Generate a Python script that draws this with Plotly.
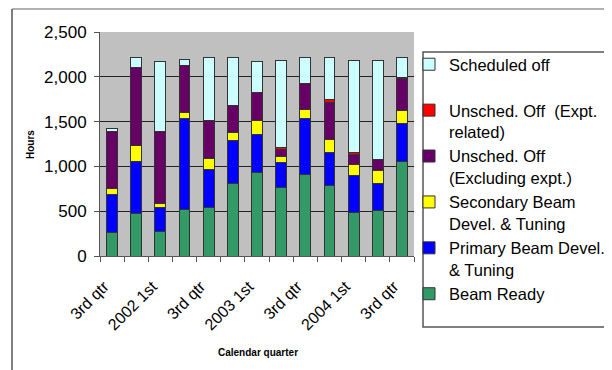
import plotly.graph_objects as go

quarters = ["2001 Q3", "2001 Q4", "2002 Q1", "2002 Q2", "2002 Q3", "2002 Q4",
            "2003 Q1", "2003 Q2", "2003 Q3", "2003 Q4", "2004 Q1", "2004 Q2", "2004 Q3"]
tick_labels = ["3rd qtr", "", "2002 1st", "", "3rd qtr", "", "2003 1st", "",
               "3rd qtr", "", "2004 1st", "", "3rd qtr"]

beam_ready = [262, 476, 277, 521, 536, 814, 934, 765, 911, 784, 487, 506, 1050]
primary = [424, 581, 263, 1009, 428, 476, 427, 277, 623, 367, 409, 308, 431]
secondary = [64, 177, 49, 71, 120, 86, 154, 72, 97, 150, 128, 138, 139]
unsched_excl = [637, 873, 806, 529, 423, 308, 315, 75, 296, 409, 108, 124, 360]
unsched_expt = [0, 0, 0, 0, 0, 0, 0, 18, 0, 34, 19, 0, 11]
scheduled = [34, 113, 772, 60, 705, 528, 337, 979, 285, 468, 1035, 1110, 221]

series = [
    ("Beam Ready", beam_ready, "#339966"),
    ("Primary Beam Devel.<br>& Tuning", primary, "#0000ff"),
    ("Secondary Beam<br>Devel. & Tuning", secondary, "#ffff00"),
    ("Unsched. Off<br>(Excluding expt.)", unsched_excl, "#660066"),
    ("Unsched. Off  (Expt.<br>related)", unsched_expt, "#ff0000"),
    ("Scheduled off<br> ", scheduled, "#ccffff"),
]

fig = go.Figure()
for name, vals, col in series:
    fig.add_trace(go.Bar(x=quarters, y=vals, name=name,
                         marker=dict(color=col, line=dict(color="#333333", width=1))))

# the page body has an 8px margin, so the figure is laid out 8px smaller
OFF = 8
W, H = 612 - OFF, 370 - OFF
L, R, T, B = 92, 198, 24, 114
pw, ph = W - L - R, H - T - B

def px(x):  # screen x -> paper
    return (x - OFF - L) / pw

def py(y):  # screen y -> paper
    return (H - B - (y - OFF)) / ph

font = "Liberation Sans, Arial, sans-serif"
fig.update_layout(
    width=W, height=H,
    barmode="stack", bargap=0.55,
    plot_bgcolor="#c0c0c0", paper_bgcolor="white",
    margin=dict(l=L, r=R, t=T, b=B, autoexpand=False),
    font=dict(family=font, color="black", size=15),
    showlegend=True,
    legend=dict(traceorder="reversed", xref="container", yref="container",
                x=401 / W, y=1 - 39 / H, xanchor="left", yanchor="top",
                bgcolor="rgba(0,0,0,0)", borderwidth=0, font=dict(size=16.5),
                valign="top", tracegroupgap=0, itemwidth=30, maxheight=400),
    xaxis=dict(tickmode="array", tickvals=quarters, ticktext=tick_labels,
               tickangle=-45, tickson="boundaries", ticks="outside", ticklen=5,
               tickcolor="#555555", showline=True, linecolor="#555555",
               tickfont=dict(size=16), showgrid=False, automargin=False,
               ticklabelstandoff=14, ticklabelshift=-8),
    yaxis=dict(range=[0, 2500], dtick=500, tickformat=",", ticks="outside", ticklen=5,
               tickcolor="#555555", showline=True, linecolor="#555555",
               gridcolor="#222222", gridwidth=1, tickfont=dict(size=17), zeroline=False,
               ticklabelstandoff=4, automargin=False),
    annotations=[
        dict(text="<b>Hours</b>", x=px(30), y=py(145), xref="paper", yref="paper",
             xanchor="center", yanchor="middle",
             showarrow=False, textangle=-90, font=dict(size=10)),
        dict(text="<b>Calendar quarter</b>", x=px(258), y=py(352), xref="paper",
             yref="paper", xanchor="center", yanchor="middle",
             showarrow=False, font=dict(size=10)),
    ],
    shapes=[
        dict(type="line", xref="paper", yref="paper", x0=px(12), x1=px(640),
             y0=py(9), y1=py(9), line=dict(color="#999999", width=1.5)),
        dict(type="line", xref="paper", yref="paper", x0=px(12), x1=px(12),
             y0=py(9), y1=py(380), line=dict(color="#555555", width=1.5)),
        dict(type="rect", xref="paper", yref="paper", x0=px(423), x1=px(640),
             y0=py(52), y1=py(327), line=dict(color="#555555", width=1.5)),
    ],
)

fig.write_html("out.html")
